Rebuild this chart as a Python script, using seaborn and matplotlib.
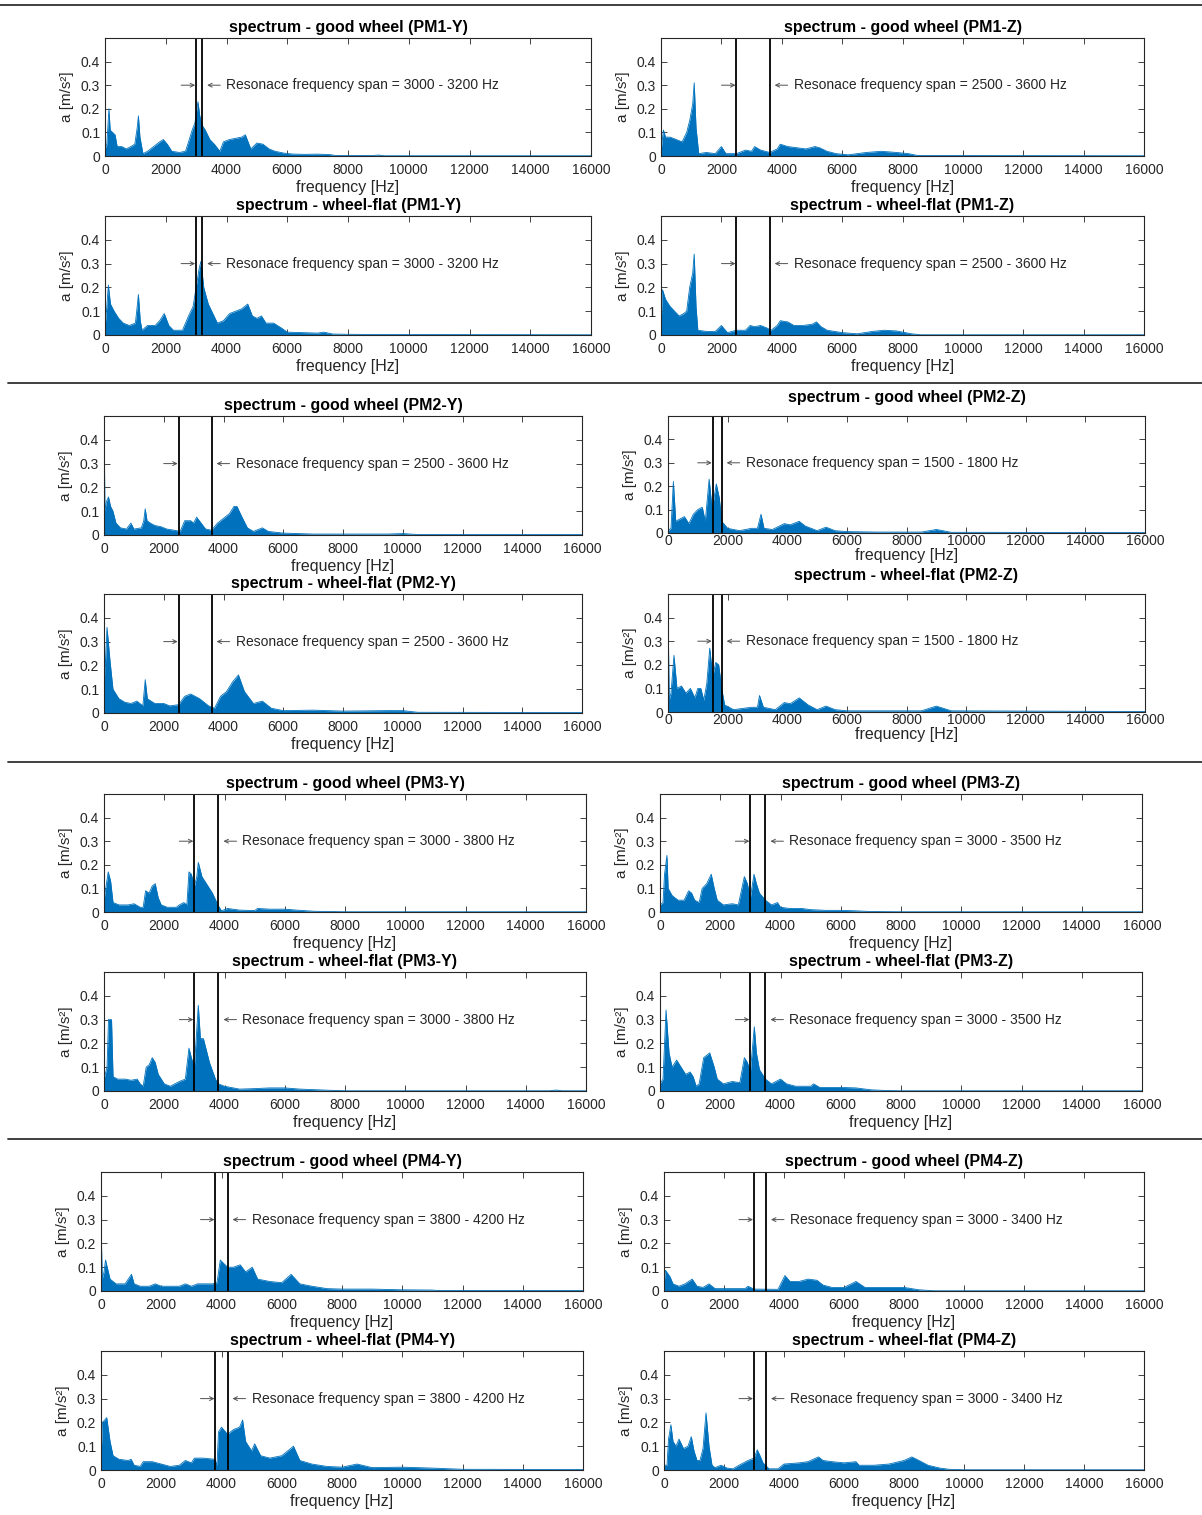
import seaborn as sns
import matplotlib.pyplot as plt
import pandas as pd
from matplotlib.lines import Line2D

# spectrum envelopes: (frequency [Hz], amplitude [m/s^2])
pm1y_good = [(0, .03), (60, .05), (130, .20), (170, .11), (250, .10), (330, .09), (400, .04), (550, .04), (700, .03),
             (850, .04), (980, .05), (1060, .12), (1100, .17), (1150, .08), (1250, .01), (1400, .02), (1600, .04),
             (1800, .06), (1920, .07), (2050, .05), (2200, .02), (2450, .015), (2650, .02), (2750, .06), (2870, .11),
             (2960, .14), (3060, .23), (3120, .17), (3200, .13), (3300, .11), (3450, .07), (3600, .05), (3780, .02),
             (3900, .06), (4100, .07), (4300, .075), (4500, .08), (4620, .09), (4800, .03), (5000, .055), (5200, .05),
             (5400, .03), (5600, .02), (5900, .012), (6200, .008), (6600, .007), (7000, .008), (7400, .006),
             (7600, .002), (8800, .002), (9000, .004), (9200, .001), (16000, .001)]
pm1z_good = [(0, .02), (80, .11), (150, .08), (300, .08), (500, .07), (700, .06), (850, .10), (950, .15), (1050, .22),
             (1100, .31), (1160, .12), (1250, .01), (1500, .015), (1800, .01), (2000, .04), (2150, .01), (2500, .01),
             (2800, .025), (3000, .02), (3100, .04), (3300, .025), (3600, .015), (3850, .03), (3950, .05), (4200, .04),
             (4500, .035), (4800, .03), (5100, .04), (5250, .035), (5500, .02), (5800, .01), (6200, .005),
             (6800, .015), (7300, .02), (7800, .015), (8200, .01), (8500, .002), (16000, .001)]
pm1y_flat = [(0, .03), (60, .12), (110, .21), (180, .13), (300, .10), (450, .07), (600, .05), (800, .04), (1000, .05),
             (1060, .12), (1100, .17), (1160, .06), (1220, .02), (1400, .04), (1650, .04), (1800, .06), (1950, .09),
             (2100, .04), (2250, .02), (2550, .02), (2750, .08), (2900, .12), (3000, .20), (3100, .28), (3160, .31),
             (3250, .20), (3400, .13), (3550, .09), (3700, .05), (3900, .06), (4100, .09), (4300, .10), (4500, .11),
             (4700, .13), (4850, .08), (5000, .07), (5150, .08), (5300, .05), (5550, .05), (5800, .03), (6000, .012),
             (6500, .01), (7000, .008), (7200, .012), (7500, .004), (8000, .003), (9000, .002), (16000, .001)]
pm1z_flat = [(0, .03), (50, .19), (150, .15), (300, .12), (450, .10), (600, .08), (750, .09), (850, .10), (950, .20),
             (1050, .26), (1100, .34), (1160, .12), (1220, .02), (1500, .015), (1800, .015), (2000, .04), (2200, .01),
             (2500, .02), (2800, .02), (2950, .04), (3100, .035), (3300, .04), (3500, .03), (3650, .02), (3850, .04),
             (3950, .06), (4200, .055), (4400, .04), (4700, .04), (5000, .045), (5150, .055), (5300, .035),
             (5500, .02), (6000, .01), (6500, .005), (7000, .015), (7400, .02), (7800, .017), (8300, .005),
             (8600, .001), (16000, .001)]
pm2y_good = [(0, .55), (30, .10), (80, .14), (150, .16), (220, .12), (300, .10), (400, .05), (550, .03), (750, .025),
             (900, .05), (1000, .025), (1250, .03), (1330, .06), (1380, .11), (1440, .06), (1550, .05), (1700, .04),
             (1900, .035), (2100, .025), (2350, .02), (2550, .015), (2700, .06), (2900, .06), (3000, .05),
             (3100, .075), (3250, .05), (3400, .025), (3600, .02), (3800, .05), (4000, .07), (4200, .09),
             (4350, .12), (4450, .12), (4600, .08), (4800, .03), (5000, .015), (5300, .03), (5500, .015),
             (6000, .008), (7000, .004), (9500, .004), (10000, .006), (10500, .002), (16000, .002)]
pm2z_good = [(0, .01), (100, .02), (180, .22), (260, .05), (400, .06), (550, .07), (700, .04), (850, .08), (1000, .10),
             (1150, .11), (1250, .05), (1380, .23), (1480, .10), (1620, .21), (1720, .15), (1800, .05), (2000, .02),
             (2400, .01), (2800, .02), (3000, .02), (3120, .08), (3220, .02), (3500, .015), (3900, .04), (4100, .035),
             (4400, .05), (4600, .03), (5000, .01), (5300, .025), (5600, .01), (6000, .006), (7000, .004),
             (8500, .004), (9000, .015), (9500, .003), (16000, .002)]
pm2y_flat = [(0, .55), (30, .15), (100, .36), (200, .22), (300, .10), (500, .06), (700, .045), (900, .04), (1100, .05),
             (1300, .03), (1380, .14), (1450, .06), (1700, .04), (2000, .04), (2200, .03), (2500, .035), (2700, .07),
             (2900, .08), (3200, .06), (3500, .03), (3700, .02), (3900, .07), (4100, .09), (4300, .13), (4500, .16),
             (4700, .09), (5000, .04), (5300, .05), (5600, .02), (6000, .01), (7000, .012), (8000, .008),
             (9500, .01), (10000, .01), (10500, .003), (16000, .002)]
pm2z_flat = [(0, .45), (40, .05), (100, .08), (200, .24), (300, .10), (450, .11), (600, .08), (750, .10), (900, .06),
             (1000, .10), (1100, .10), (1200, .05), (1300, .12), (1400, .27), (1500, .15), (1600, .21), (1700, .20),
             (1800, .10), (1900, .03), (2200, .01), (2800, .02), (3000, .02), (3070, .07), (3200, .02), (3600, .01),
             (3900, .04), (4100, .035), (4400, .06), (4700, .03), (5000, .01), (5300, .025), (5600, .01),
             (6000, .005), (8500, .005), (9000, .025), (9500, .005), (16000, .002)]
pm3y_good = [(0, .05), (140, .17), (220, .13), (300, .04), (500, .03), (800, .03), (1000, .035), (1200, .02),
             (1300, .02), (1380, .09), (1500, .08), (1600, .11), (1700, .12), (1800, .06), (1900, .03), (2100, .02),
             (2400, .02), (2500, .03), (2650, .04), (2750, .03), (2820, .17), (2900, .16), (3000, .11), (3080, .15),
             (3130, .21), (3250, .15), (3400, .12), (3600, .08), (3780, .03), (3900, .005), (4100, .015),
             (4500, .008), (5000, .006), (5100, .015), (5500, .012), (6000, .012), (6500, .007), (7000, .003),
             (8000, .001), (16000, .001)]
pm3z_good = [(0, .03), (100, .04), (150, .16), (230, .24), (270, .10), (400, .07), (600, .05), (800, .05), (950, .09),
             (1050, .08), (1150, .05), (1300, .04), (1400, .10), (1550, .12), (1700, .16), (1800, .10), (1900, .05),
             (2100, .03), (2400, .035), (2600, .03), (2800, .15), (2900, .12), (3000, .06), (3120, .16), (3200, .12),
             (3300, .08), (3500, .05), (3700, .03), (3900, .04), (4000, .02), (4300, .015), (4700, .015),
             (5000, .01), (5500, .007), (6000, .007), (6500, .005), (7000, .002), (8000, .001), (16000, .001)]
pm3y_flat = [(0, .05), (100, .10), (150, .30), (250, .30), (300, .06), (450, .05), (700, .05), (900, .045),
             (1100, .05), (1200, .03), (1300, .02), (1400, .10), (1500, .11), (1600, .14), (1700, .12), (1800, .07),
             (2000, .03), (2200, .02), (2500, .04), (2700, .05), (2820, .18), (2900, .14), (3000, .10), (3130, .36),
             (3200, .22), (3300, .22), (3500, .12), (3700, .05), (3800, .03), (4000, .02), (4500, .008), (5000, .01),
             (5500, .013), (6000, .013), (6500, .008), (7500, .003), (8000, .001), (14800, .001), (15000, .004),
             (15200, .001), (16000, .001)]
pm3z_flat = [(0, .03), (100, .05), (200, .34), (300, .16), (400, .10), (550, .13), (700, .10), (850, .07), (1000, .08),
             (1100, .06), (1200, .02), (1300, .03), (1450, .14), (1650, .16), (1800, .10), (1900, .05), (2100, .03),
             (2400, .04), (2650, .035), (2800, .14), (2900, .12), (3000, .08), (3130, .27), (3200, .16), (3300, .09),
             (3500, .05), (3700, .03), (4000, .05), (4200, .03), (4500, .02), (5000, .02), (5100, .03), (5300, .015),
             (6000, .015), (6500, .013), (7000, .005), (7500, .002), (8000, .001), (16000, .001)]
pm4y_good = [(0, .30), (40, .05), (100, .08), (150, .13), (300, .05), (500, .03), (800, .03), (1010, .07), (1100, .03),
             (1300, .02), (1600, .02), (1800, .03), (2000, .02), (2600, .02), (2800, .03), (3000, .02), (3200, .03),
             (3700, .03), (3850, .035), (3960, .13), (4200, .10), (4400, .10), (4620, .11), (4800, .08), (5020, .10),
             (5200, .05), (5600, .04), (6000, .035), (6310, .07), (6600, .03), (7000, .02), (7500, .01), (8000, .008),
             (9000, .008), (10000, .005), (11000, .004), (11200, .002), (16000, .002)]
pm4z_good = [(0, .03), (50, .087), (200, .06), (300, .03), (500, .02), (700, .03), (940, .05), (1100, .02),
             (1300, .015), (1500, .03), (1700, .01), (2000, .01), (2700, .01), (2800, .02), (3000, .008), (3800, .007),
             (4030, .065), (4200, .04), (4500, .04), (4800, .05), (5100, .045), (5300, .025), (5600, .015),
             (6000, .015), (6400, .04), (6700, .015), (8000, .015), (8500, .005), (9000, .001), (16000, .001)]
pm4y_flat = [(0, .05), (50, .20), (190, .22), (300, .12), (400, .06), (600, .045), (900, .04), (1000, .045),
             (1100, .02), (1300, .015), (1400, .035), (1700, .035), (2000, .025), (2300, .015), (2600, .02),
             (2800, .04), (3000, .03), (3100, .05), (3400, .05), (3780, .045), (3850, .02), (3900, .16), (4000, .18),
             (4200, .15), (4400, .17), (4600, .18), (4700, .21), (4800, .12), (5000, .08), (5100, .11), (5300, .06),
             (5600, .05), (6000, .06), (6390, .10), (6600, .04), (7000, .025), (7500, .015), (8000, .012),
             (8500, .025), (9000, .01), (10000, .012), (11000, .008), (12000, .003), (16000, .002)]
pm4z_flat = [(0, .02), (100, .02), (150, .13), (230, .19), (300, .12), (400, .10), (500, .13), (650, .09), (800, .10),
             (910, .14), (1000, .08), (1100, .04), (1200, .04), (1300, .09), (1400, .24), (1500, .10), (1600, .02),
             (1700, .01), (1900, .02), (2100, .008), (2300, .005), (2500, .02), (2800, .04), (3000, .05), (3110, .085),
             (3200, .06), (3300, .03), (3500, .005), (3800, .005), (4000, .025), (4500, .03), (4800, .035),
             (5150, .055), (5300, .04), (5600, .035), (6000, .03), (6400, .035), (6500, .02), (7000, .02),
             (7500, .025), (8000, .04), (8260, .055), (8500, .04), (8800, .02), (9200, .008), (9500, .003),
             (10000, .001), (16000, .001)]

# resonance spans per sensor [Hz]
spans = {"PM1-Y": (3000, 3200), "PM1-Z": (2500, 3600), "PM2-Y": (2500, 3600), "PM2-Z": (1500, 1800),
         "PM3-Y": (3000, 3800), "PM3-Z": (3000, 3500), "PM4-Y": (3800, 4200), "PM4-Z": (3000, 3400)}

xticks = list(range(0, 16001, 2000))
yticks = [0, 0.1, 0.2, 0.3, 0.4]
ytick_labels = ["0", "0.1", "0.2", "0.3", "0.4"]

W, H = 1202, 1515
# (series, state, sensor, left, top, right, bottom) in pixels
panels = [
    (pm1y_good, "good wheel", "PM1-Y", 105, 38, 591, 156),
    (pm1z_good, "good wheel", "PM1-Z", 661, 38, 1144, 156),
    (pm1y_flat, "wheel-flat", "PM1-Y", 105, 216, 591, 335),
    (pm1z_flat, "wheel-flat", "PM1-Z", 661, 216, 1144, 335),
    (pm2y_good, "good wheel", "PM2-Y", 104, 416, 582, 535),
    (pm2z_good, "good wheel", "PM2-Z", 668, 416, 1145, 533),
    (pm2y_flat, "wheel-flat", "PM2-Y", 104, 594, 582, 713),
    (pm2z_flat, "wheel-flat", "PM2-Z", 668, 594, 1145, 712),
    (pm3y_good, "good wheel", "PM3-Y", 104, 794, 586, 912),
    (pm3z_good, "good wheel", "PM3-Z", 660, 794, 1142, 912),
    (pm3y_flat, "wheel-flat", "PM3-Y", 104, 972, 586, 1091),
    (pm3z_flat, "wheel-flat", "PM3-Z", 660, 972, 1142, 1091),
    (pm4y_good, "good wheel", "PM4-Y", 101, 1172, 583, 1291),
    (pm4z_good, "good wheel", "PM4-Z", 664, 1172, 1144, 1291),
    (pm4y_flat, "wheel-flat", "PM4-Y", 101, 1351, 583, 1470),
    (pm4z_flat, "wheel-flat", "PM4-Z", 664, 1351, 1144, 1470),
]

sns.set_style("ticks")
plt.rcParams["font.family"] = ["Liberation Sans", "DejaVu Sans"]
plt.rcParams["text.color"] = "#262626"
blue = "#0072BD"
dark = "#262626"

fig = plt.figure(figsize=(W / 100, H / 100), dpi=100)

for series, state, sensor, l, t, r, b in panels:
    ax = fig.add_axes([l / W, 1 - b / H, (r - l) / W, (b - t) / H])
    df = pd.DataFrame(series, columns=["f", "a"])
    ax.fill_between(df["f"], 0, df["a"], color=blue, lw=0)
    sns.lineplot(data=df, x="f", y="a", ax=ax, color=blue, lw=0.6, estimator=None)

    lo, hi = spans[sensor]
    px = 16000 / (r - l)  # Hz per pixel
    ax.axvline(lo, color="black", lw=1.3)
    ax.axvline(hi, color="black", lw=1.3)
    arrow = dict(arrowstyle="->", lw=0.7, color="#505050", mutation_scale=7, shrinkA=0, shrinkB=0)
    ax.annotate("", xy=(lo - 1 * px, 0.3), xytext=(lo - 15 * px, 0.3), arrowprops=arrow)
    ax.annotate("", xy=(hi + 5 * px, 0.3), xytext=(hi + 18 * px, 0.3), arrowprops=arrow)
    ax.text(hi + 24 * px, 0.3, "Resonace frequency span = %d - %d Hz" % (lo, hi),
            ha="left", va="center", fontsize=10, color=dark)

    ax.set_xlim(0, 16000)
    ax.set_ylim(0, 0.5)
    ax.set_xticks(xticks)
    ax.set_yticks(yticks)
    ax.set_yticklabels(ytick_labels)
    tight = sensor == "PM2-Z"
    ax.tick_params(axis="x", pad=1 if tight else 5)
    ax.tick_params(direction="in", top=True, right=True, length=4, width=0.6, labelsize=10, colors=dark)
    for sp in ax.spines.values():
        sp.set_color(dark)
        sp.set_linewidth(0.8)
    ax.set_title("spectrum - %s (%s)" % (state, sensor), fontsize=11.5, fontweight="bold",
                 pad=10 if tight else 4, color="black")
    ax.set_xlabel("frequency [Hz]", fontsize=11.5, labelpad=0 if tight else 2, color=dark)
    ax.set_ylabel("a [m/s\u00b2]", fontsize=11, labelpad=5, color=dark)

# horizontal separators between sensor groups
for y, x0 in [(5, 0), (383, 8), (762, 8), (1139, 8)]:
    fig.add_artist(Line2D([x0 / W, 1], [1 - y / H, 1 - y / H], transform=fig.transFigure,
                          color="#303030", lw=1.3))

fig.savefig("out.png", dpi=100)
